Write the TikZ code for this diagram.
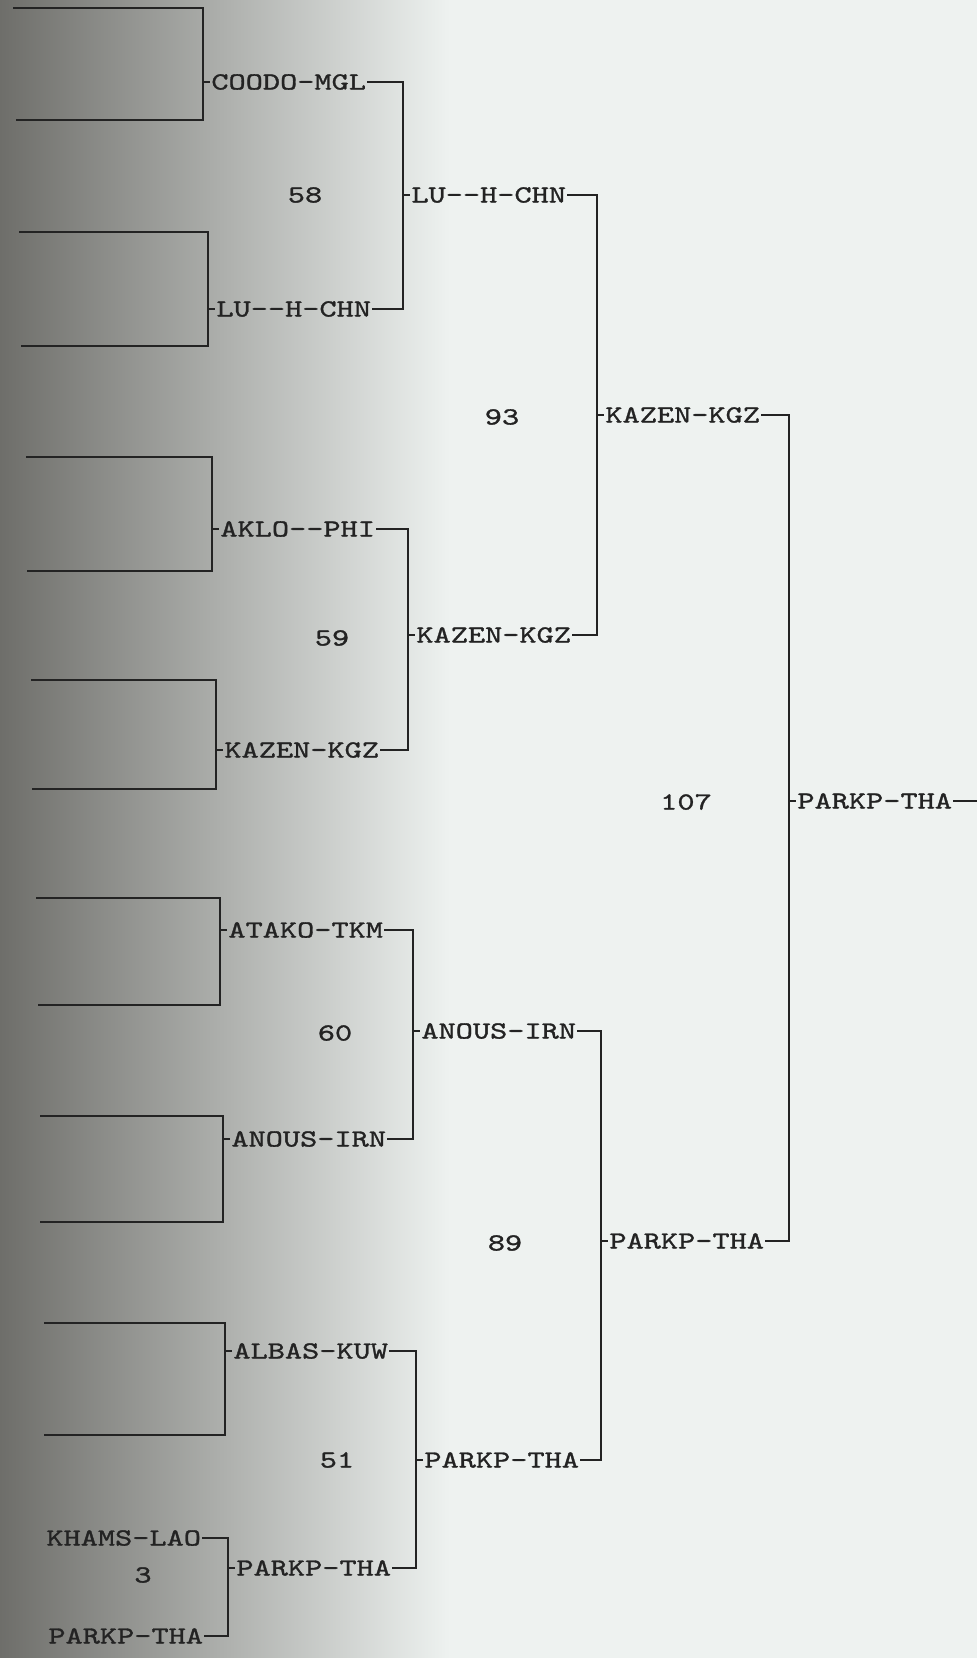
\documentclass[tikz,border=0pt]{standalone}
\usepackage{fontspec}
\newfontfamily\prtfont{lmmono10-regular.otf}[FakeStretch=1.33, FakeBold=1.2]
\usetikzlibrary{positioning}
\definecolor{ink}{RGB}{35,35,35}
\definecolor{paper}{RGB}{238,242,240}
\definecolor{haze}{RGB}{172,174,170}
\definecolor{shadow}{RGB}{110,110,106}

\begin{document}
\begin{tikzpicture}[
  x=0.5pt, y=-0.5pt,
  font={\prtfont\fontsize{12.3}{14}\selectfont},
  lbl/.style={anchor=west, inner xsep=0.5pt, inner ysep=1pt, text=ink},
  num/.style={inner sep=1pt, text=ink},
  wire/.style={draw=ink, line width=1.3pt}
]
% paper
\useasboundingbox (0,0) rectangle (977,1658);
\shade[left color=shadow, middle color=haze, right color=paper] (0,0) rectangle (450,1658);
\fill[paper] (450,0) rectangle (977,1658);

% first round boxes
\coordinate (b1t) at (13,8);   \coordinate (b1b) at (16,120);
\coordinate (b2t) at (19,232); \coordinate (b2b) at (21,346);
\coordinate (b3t) at (26,457); \coordinate (b3b) at (27,571);
\coordinate (b4t) at (31,680); \coordinate (b4b) at (32,789);
\coordinate (b5t) at (36,898); \coordinate (b5b) at (38,1005);
\coordinate (b6t) at (40,1116); \coordinate (b6b) at (40,1222);
\coordinate (b7t) at (44,1323); \coordinate (b7b) at (44,1435);

\node[lbl] (coodo) at (210,82) {COODO-MGL};
\node[lbl] (luha) at (215,309) {LU-\kern0pt-H-CHN};
\node[lbl] (aklo) at (219,529) {AKLO-\kern0pt-PHI};
\node[lbl] (kazena) at (223,750) {KAZEN-KGZ};
\node[lbl] (atako) at (227,930) {ATAKO-TKM};
\node[lbl] (anousa) at (230,1139) {ANOUS-IRN};
\node[lbl] (albas) at (232,1351) {ALBAS-KUW};
\node[lbl] (khams) at (45,1538) {KHAMS-LAO};
\node[lbl] (parkpa) at (47,1636) {PARKP-THA};

% winners
\node[lbl] (luhb) at (410,195) {LU-\kern0pt-H-CHN};
\node[lbl] (kazenb) at (415,635) {KAZEN-KGZ};
\node[lbl] (anousb) at (420,1031) {ANOUS-IRN};
\node[lbl] (parkpb) at (235,1568) {PARKP-THA};
\node[lbl] (parkpc) at (423,1460) {PARKP-THA};
\node[lbl] (kazenc) at (604,415) {KAZEN-KGZ};
\node[lbl] (parkpd) at (608,1241) {PARKP-THA};
\node[lbl] (parkpe) at (796,801) {PARKP-THA};
\coordinate (rend) at (977,801);

% match numbers
\node[num] (s58) at (305,195) {58};
\node[num] (s59) at (332,638) {59};
\node[num] (s60) at (335,1033) {60};
\node[num] (s3) at (143,1575) {3};
\node[num] (s51) at (337,1460) {51};
\node[num] (s93) at (502,417) {93};
\node[num] (s89) at (505,1243) {89};
\node[num] (s107) at (686,802) {107};

% boxes
\draw[wire] (b1t) -| ([xshift=-3.5pt]coodo.west) |- (b1b);
\draw[wire] (b2t) -| ([xshift=-3.5pt]luha.west) |- (b2b);
\draw[wire] (b3t) -| ([xshift=-3.5pt]aklo.west) |- (b3b);
\draw[wire] (b4t) -| ([xshift=-3.5pt]kazena.west) |- (b4b);
\draw[wire] (b5t) -| ([xshift=-3.5pt]atako.west) |- (b5b);
\draw[wire] (b6t) -| ([xshift=-3.5pt]anousa.west) |- (b6b);
\draw[wire] (b7t) -| ([xshift=-3.5pt]albas.west) |- (b7b);
\foreach \n in {coodo,luha,aklo,kazena,atako,anousa,albas}
  \draw[wire] ([xshift=-3.5pt]\n.west) -- (\n.west);

% brackets
\draw[wire] (coodo.east) -| ([xshift=-3.5pt]luhb.west) -- (luhb.west);
\draw[wire] (luha.east) -| ([xshift=-3.5pt]luhb.west);
\draw[wire] (aklo.east) -| ([xshift=-3.5pt]kazenb.west) -- (kazenb.west);
\draw[wire] (kazena.east) -| ([xshift=-3.5pt]kazenb.west);
\draw[wire] (atako.east) -| ([xshift=-3.5pt]anousb.west) -- (anousb.west);
\draw[wire] (anousa.east) -| ([xshift=-3.5pt]anousb.west);
\draw[wire] (khams.east) -| ([xshift=-3.5pt]parkpb.west) -- (parkpb.west);
\draw[wire] (parkpa.east) -| ([xshift=-3.5pt]parkpb.west);
\draw[wire] (albas.east) -| ([xshift=-3.5pt]parkpc.west) -- (parkpc.west);
\draw[wire] (parkpb.east) -| ([xshift=-3.5pt]parkpc.west);
\draw[wire] (luhb.east) -| ([xshift=-3.5pt]kazenc.west) -- (kazenc.west);
\draw[wire] (kazenb.east) -| ([xshift=-3.5pt]kazenc.west);
\draw[wire] (anousb.east) -| ([xshift=-3.5pt]parkpd.west) -- (parkpd.west);
\draw[wire] (parkpc.east) -| ([xshift=-3.5pt]parkpd.west);
\draw[wire] (kazenc.east) -| ([xshift=-3.5pt]parkpe.west) -- (parkpe.west);
\draw[wire] (parkpd.east) -| ([xshift=-3.5pt]parkpe.west);
\draw[wire] (parkpe.east) -- (rend);
\end{tikzpicture}
\end{document}
